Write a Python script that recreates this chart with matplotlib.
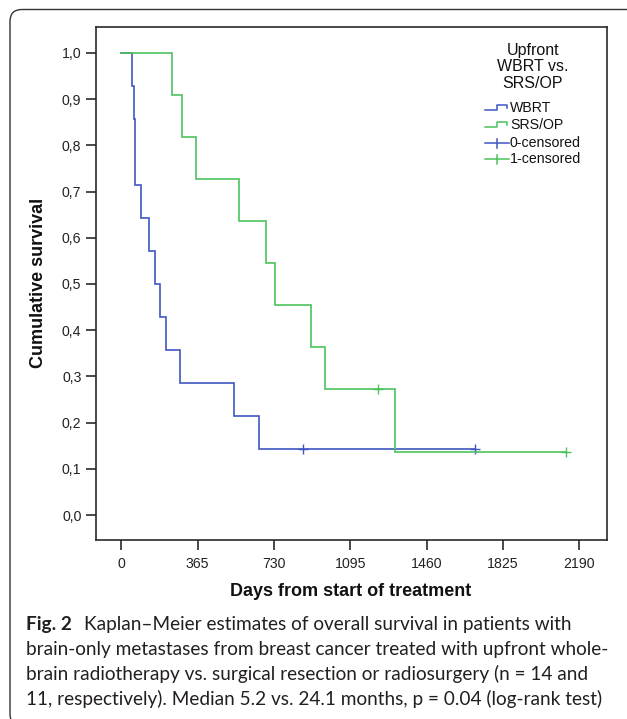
import matplotlib
matplotlib.use('Agg')
import matplotlib.pyplot as plt
from matplotlib.patches import FancyBboxPatch
from matplotlib.transforms import IdentityTransform
from matplotlib.lines import Line2D
import numpy as np

# ---------------- data ----------------
wbrt_times = [52, 60, 64, 67, 95, 131, 160, 186, 216, 282, 537, 657, 869, 1691]
wbrt_event = [1, 1, 1, 1, 1, 1, 1, 1, 1, 1, 1, 1, 0, 0]
srs_times = [244, 290, 357, 565, 690, 735, 907, 972, 1226, 1311, 2127]
srs_event = [1, 1, 1, 1, 1, 1, 1, 1, 0, 1, 0]

x_ticks = [0, 365, 730, 1095, 1460, 1825, 2190]
x_ticklabels = ['0', '365', '730', '1095', '1460', '1825', '2190']
y_ticks = [0.0, 0.1, 0.2, 0.3, 0.4, 0.5, 0.6, 0.7, 0.8, 0.9, 1.0]
y_ticklabels = ['0,0', '0,1', '0,2', '0,3', '0,4', '0,5', '0,6', '0,7', '0,8', '0,9', '1,0']

legend_title = ['Upfront', 'WBRT vs.', 'SRS/OP']
series_names = ['WBRT', 'SRS/OP']
censor_names = ['0-censored', '1-censored']

caption_bold = 'Fig. 2'
caption_lines = [
    'Kaplan\u2013Meier estimates of overall survival in patients with',
    'brain-only metastases from breast cancer treated with upfront whole-',
    'brain radiotherapy vs. surgical resection or radiosurgery (n = 14 and',
    '11, respectively). Median 5.2 vs. 24.1 months, p = 0.04 (log-rank test)',
]

BLUE = '#3F56C2'
GREEN = '#4CC25C'
DARK = '#2a2a2a'


def km(times, events):
    order = np.argsort(times)
    t = np.asarray(times)[order]
    e = np.asarray(events)[order]
    at_risk = len(t)
    s = 1.0
    xs, ys, cx, cy = [0], [1.0], [], []
    for ti, ei in zip(t, e):
        if ei:
            s *= (at_risk - 1) / at_risk
            xs.append(ti)
            ys.append(s)
        else:
            cx.append(ti)
            cy.append(s)
        at_risk -= 1
    xs.append(t[-1])
    ys.append(s)
    return xs, ys, cx, cy


W, H = 627, 719
fig = plt.figure(figsize=(W / 100, H / 100), dpi=100)
fig.patch.set_facecolor('white')

ax = fig.add_axes([96 / W, 1 - 540 / H, (607 - 96) / W, (540 - 27) / H])

for times, events, col, z in [(wbrt_times, wbrt_event, BLUE, 3), (srs_times, srs_event, GREEN, 4)]:
    xs, ys, cx, cy = km(times, events)
    ax.step(xs, ys, where='post', color=col, lw=1.2, zorder=z, solid_joinstyle='miter')
    ax.plot(cx, cy, ls='none', marker='+', ms=7, mew=1.0, color=col, zorder=z)

ax.set_xlim(-121, 2323)
ax.set_ylim(-0.054, 1.056)
ax.set_xticks(x_ticks)
ax.set_xticklabels(x_ticklabels)
ax.set_yticks(y_ticks)
ax.set_yticklabels(y_ticklabels)
for sp in ax.spines.values():
    sp.set_color(DARK)
    sp.set_linewidth(1.2)
ax.tick_params(axis='both', direction='out', length=7, width=1.2, color=DARK,
               labelsize=10.2, labelcolor='#222222')
ax.tick_params(axis='y', pad=3.5)
ax.tick_params(axis='x', pad=5)
for lab in ax.get_xticklabels() + ax.get_yticklabels():
    lab.set_family('Liberation Sans')

fig.text(39 / W, 1 - 283 / H, 'Cumulative survival', rotation=90, ha='center', va='center',
         fontsize=13, fontweight='bold', family='Liberation Sans', color='#111111')
fig.text(351 / W, 1 - 591 / H, 'Days from start of treatment', ha='center', va='center',
         fontsize=13, fontweight='bold', family='Liberation Sans', color='#111111')

# legend (drawn manually in axes fraction)
def axx(px):
    return (px - 96) / (607 - 96)

def axy(py):
    return (540 - py) / (540 - 27)

for i, line in enumerate(legend_title):
    ax.text(axx(533), axy(50 + 16.5 * i), line, ha='center', va='center', fontsize=11.5,
            family='Liberation Sans', color='#111111', transform=ax.transAxes)

entry_y = [108, 125, 143, 159]
cols = [BLUE, GREEN, BLUE, GREEN]
labels = series_names + censor_names
for k, (yy, col, lab) in enumerate(zip(entry_y, cols, labels)):
    if k < 2:
        xs_h = [axx(485), axx(497), axx(497), axx(507), axx(507)]
        ys_h = [axy(yy + 2), axy(yy + 2), axy(yy - 3), axy(yy - 3), axy(yy)]
        ax.add_line(Line2D(xs_h, ys_h, color=col, lw=1.1, transform=ax.transAxes))
    else:
        ax.add_line(Line2D([axx(485), axx(509)], [axy(yy), axy(yy)], color=col, lw=1.1,
                           transform=ax.transAxes))
        ax.add_line(Line2D([axx(497), axx(497)], [axy(yy - 4.5), axy(yy + 4.5)], color=col,
                           lw=1.1, transform=ax.transAxes))
    ax.text(axx(510), axy(yy), lab, ha='left', va='center', fontsize=10.2,
            family='Liberation Sans', color='#111111', transform=ax.transAxes)

# panel border
panel = FancyBboxPatch((10, H - 726), 650, 726 - 9.5,
                       boxstyle='round,pad=0,rounding_size=12',
                       transform=IdentityTransform(), facecolor='none',
                       edgecolor='#333333', linewidth=1.0, clip_on=False)
fig.add_artist(panel)

# caption
renderer = fig.canvas.get_renderer()
probe = fig.text(0, 0, caption_lines[1], fontsize=12, family='Lato')
wpx = probe.get_window_extent(renderer).width
probe.remove()
cap_size = 12 * (605 - 26) / wpx

baselines = [630, 655, 680, 705]
tb = fig.text(26 / W, 1 - baselines[0] / H, caption_bold, fontsize=cap_size, family='Lato',
              fontweight='bold', va='baseline', ha='left', color='#231f20')
bend = tb.get_window_extent(renderer).x1
fig.text((bend + 12) / W, 1 - baselines[0] / H, caption_lines[0], fontsize=cap_size,
         family='Lato', va='baseline', ha='left', color='#231f20')
for line, b in zip(caption_lines[1:], baselines[1:]):
    fig.text(26 / W, 1 - b / H, line, fontsize=cap_size, family='Lato', va='baseline',
             ha='left', color='#231f20')

fig.savefig('out.png', dpi=100)
